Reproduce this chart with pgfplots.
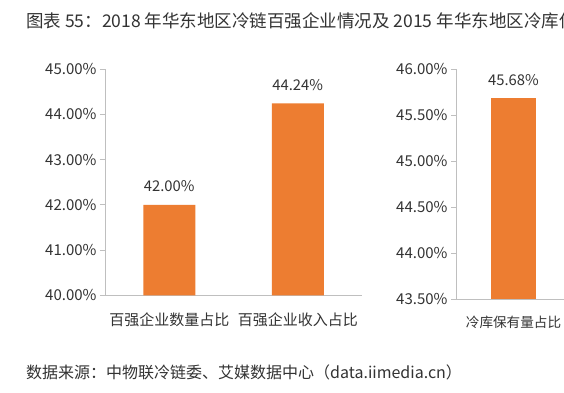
\documentclass[border=0pt]{standalone}
\usepackage{pgfplots}
\pgfplotsset{compat=1.18}
\usepackage{fontspec}
\setmainfont{Noto Sans CJK SC}
\definecolor{barorange}{HTML}{ED7D31}
\definecolor{axisgray}{HTML}{BFBFBF}
\definecolor{txt}{HTML}{333333}
\begin{document}
\begin{tikzpicture}
\useasboundingbox (0bp,0bp) rectangle (564bp,393bp);
\fill[white] (0bp,0bp) rectangle (564bp,393bp);
\node[anchor=west, inner sep=0, font=\fontsize{17.5bp}{19bp}\selectfont, text=txt] at (26bp,372bp) {图表 55：2018 年华东地区冷链百强企业情况及 2015 年华东地区冷库保有量占比};
\node[anchor=west, inner sep=0, font=\fontsize{16bp}{18bp}\selectfont, text=txt] at (26bp,21bp) {数据来源：中物联冷链委、艾媒数据中心（data.iimedia.cn）};
\pgfplotsset{
  mystyle/.style={
    scale only axis,
    axis x line=bottom, axis y line=left,
    axis line style={-, axisgray, line width=0.8bp},
    tick style={axisgray, line width=0.8bp},
    tick align=outside,
    major tick length=5bp,
    ticklabel style={font=\fontsize{15bp}{17bp}\selectfont, text=txt},
    xticklabel style={yshift=-9bp},
    ybar, bar width=52bp,
    nodes near coords={\pgfmathprintnumber[fixed,fixed zerofill,precision=2,assume math mode=true]{\pgfplotspointmeta}\%},
    every node near coord/.append style={font=\fontsize{14.8bp}{16bp}\selectfont, text=txt, anchor=south, inner sep=0, yshift=13bp},
    point meta=y,
    clip=false,
  }
}
\begin{axis}[mystyle,
  at={(105bp,97.5bp)}, anchor=south west,
  width=257bp, height=226.5bp,
  xmin=-0.5, xmax=1.5, ymin=40, ymax=45,
  xtick={0,1}, xticklabels={百强企业数量占比,百强企业收入占比},
  x tick style={draw=none},
  extra x ticks={-0.5,0.5,1.5}, extra x tick labels={},
  extra x tick style={tick style={axisgray, line width=0.8bp}},
  ytick={40,41,42,43,44,45},
  yticklabels={40.00\%,41.00\%,42.00\%,43.00\%,44.00\%,45.00\%},
]
\addplot[fill=barorange, draw=none, bar shift=0pt] coordinates {(0,42.00) (1,44.24)};
\end{axis}
\begin{axis}[mystyle,
  at={(456bp,94bp)}, anchor=south west,
  width=115bp, height=230bp,
  bar width=45bp,
  xmin=0, xmax=1, ymin=43.5, ymax=46,
  xtick={0.5}, xticklabels={冷库保有量占比},
  xticklabel style={font=\fontsize{13.6bp}{15bp}\selectfont},
  x tick style={draw=none},
  extra x ticks={0}, extra x tick labels={},
  extra x tick style={tick style={axisgray, line width=0.8bp}},
  ytick={43.5,44,44.5,45,45.5,46},
  yticklabels={43.50\%,44.00\%,44.50\%,45.00\%,45.50\%,46.00\%},
]
\addplot[fill=barorange, draw=none, bar shift=0pt] coordinates {(0.5,45.68)};
\end{axis}
\end{tikzpicture}
\end{document}
